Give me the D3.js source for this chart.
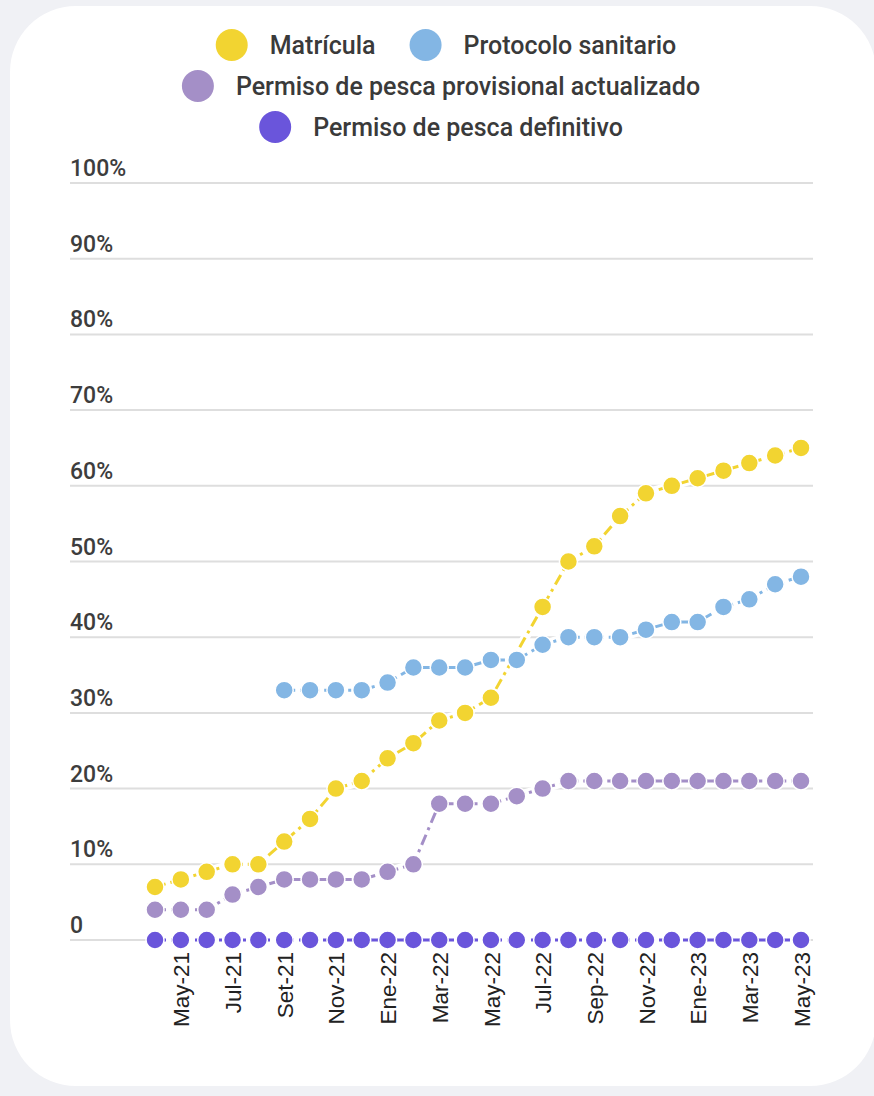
<!DOCTYPE html>
<html>
<head>
<meta charset="utf-8">
<script src="https://cdn.jsdelivr.net/npm/d3@7"></script>
<style>
  html, body { margin: 0; padding: 0; background: #f0f1f5; }
  svg { display: block; }
</style>
</head>
<body>
<script>
(function () {
  const months = ['Abr-21', 'May-21', 'Jun-21', 'Jul-21', 'Ago-21', 'Set-21', 'Oct-21', 'Nov-21', 'Dic-21',
    'Ene-22', 'Feb-22', 'Mar-22', 'Abr-22', 'May-22', 'Jun-22', 'Jul-22', 'Ago-22', 'Sep-22', 'Oct-22',
    'Nov-22', 'Dic-22', 'Ene-23', 'Feb-23', 'Mar-23', 'Abr-23', 'May-23'];
  const labeledMonths = months.filter((m, i) => i % 2 === 1);

  const matricula = [7, 8, 9, 10, 10, 13, 16, 20, 21, 24, 26, 29, 30, 32, null, 44, 50, 52, 56, 59, 60, 61, 62, 63, 64, 65];
  const protocolo = [null, null, null, null, null, 33, 33, 33, 33, 34, 36, 36, 36, 37, 37, 39, 40, 40, 40, 41, 42, 42, 44, 45, 47, 48];
  const provisional = [4, 4, 4, 6, 7, 8, 8, 8, 8, 9, 10, 18, 18, 18, 19, 20, 21, 21, 21, 21, 21, 21, 21, 21, 21, 21];
  const definitivo = [0, 0, 0, 0, 0, 0, 0, 0, 0, 0, 0, 0, 0, 0, 0, 0, 0, 0, 0, 0, 0, 0, 0, 0, 0, 0];

  const seriesNames = ['Matrícula', 'Protocolo sanitario', 'Permiso de pesca provisional actualizado', 'Permiso de pesca definitivo'];
  const seriesColors = ['#f2d431', '#83b6e4', '#a48fc7', '#6a55db'];
  const yTicks = [0, 10, 20, 30, 40, 50, 60, 70, 80, 90, 100];

  const series = [matricula, protocolo, provisional, definitivo].map((values, i) => ({
    name: seriesNames[i],
    color: seriesColors[i],
    points: values.map((v, j) => ({ month: months[j], value: v })).filter(d => d.value !== null)
  }));

  const width = 874;
  const height = 1096;

  const svg = d3.select('body').append('svg')
    .attr('width', width)
    .attr('height', height);

  // card
  svg.append('rect')
    .attr('x', 10).attr('y', 6)
    .attr('width', 866).attr('height', 1080)
    .attr('rx', 66).attr('ry', 66)
    .attr('fill', '#fff');

  const x = d3.scalePoint()
    .domain(months)
    .range([155, 801]);

  const y = d3.scaleLinear()
    .domain([0, 100])
    .range([940, 183]);

  // grid + y labels
  const grid = svg.append('g');
  grid.selectAll('line')
    .data(yTicks)
    .enter()
    .append('line')
    .attr('x1', 70).attr('x2', 813)
    .attr('y1', d => y(d)).attr('y2', d => y(d))
    .attr('stroke', '#dedede')
    .attr('stroke-width', 2);

  grid.selectAll('text')
    .data(yTicks)
    .enter()
    .append('text')
    .attr('x', 70)
    .attr('y', d => y(d) - 7)
    .attr('font-family', 'Roboto, sans-serif')
    .attr('font-size', 23)
    .attr('font-weight', 500)
    .attr('fill', '#3d3d3d')
    .text(d => d === 0 ? '0' : d + '%');

  // x axis
  const xAxis = d3.axisBottom(x)
    .tickValues(labeledMonths)
    .tickSize(0)
    .tickPadding(0);

  const gx = svg.append('g')
    .attr('transform', 'translate(0,952)')
    .call(xAxis);
  gx.select('.domain').remove();
  gx.selectAll('text')
    .attr('transform', 'rotate(-90)')
    .attr('text-anchor', 'end')
    .attr('x', 0)
    .attr('y', 0)
    .attr('dy', '0.36em')
    .attr('font-family', '"Liberation Sans", Arial, sans-serif')
    .attr('font-size', 22.5)
    .attr('fill', '#222');

  const line = d3.line()
    .x(d => x(d.month))
    .y(d => y(d.value));

  const plot = svg.append('g');

  // white halos under lines
  plot.selectAll('path.halo')
    .data(series)
    .enter()
    .append('path')
    .attr('class', 'halo')
    .attr('d', d => line(d.points))
    .attr('fill', 'none')
    .attr('stroke', '#fff')
    .attr('stroke-width', 9);

  const groups = plot.selectAll('g.series')
    .data(series)
    .enter()
    .append('g')
    .attr('class', 'series');

  groups.append('path')
    .attr('d', d => line(d.points))
    .attr('fill', 'none')
    .attr('stroke', d => d.color)
    .attr('stroke-width', 3)
    .attr('stroke-dasharray', '11,5,3,5');

  groups.selectAll('circle')
    .data(d => d.points.map(p => Object.assign({ color: d.color }, p)))
    .enter()
    .append('circle')
    .attr('cx', d => x(d.month))
    .attr('cy', d => y(d.value))
    .attr('r', 9)
    .attr('fill', d => d.color)
    .attr('stroke', '#fff')
    .attr('stroke-width', 1.5);

  // legend
  const legendRows = [[0, 1], [2], [3]];
  const legendY = [45, 86, 127];
  const legendCx = [446, 441, 441];
  const legend = svg.append('g');

  legendRows.forEach((row, r) => {
    const g = legend.append('g');
    let cursor = 0;
    row.forEach((si, k) => {
      if (k > 0) cursor += 34;
      g.append('circle')
        .attr('cx', cursor + 16)
        .attr('cy', 0)
        .attr('r', 16)
        .attr('fill', seriesColors[si]);
      cursor += 32 + 22;
      const t = g.append('text')
        .attr('x', cursor)
        .attr('y', 0)
        .attr('dy', '0.35em')
        .attr('font-family', 'Roboto, sans-serif')
        .attr('font-size', 25)
        .attr('font-weight', 500)
        .attr('fill', '#3a3a3a')
        .text(seriesNames[si]);
      cursor += t.node().getComputedTextLength();
    });
    g.attr('transform', `translate(${legendCx[r] - cursor / 2},${legendY[r]})`);
  });
})();
</script>
</body>
</html>
